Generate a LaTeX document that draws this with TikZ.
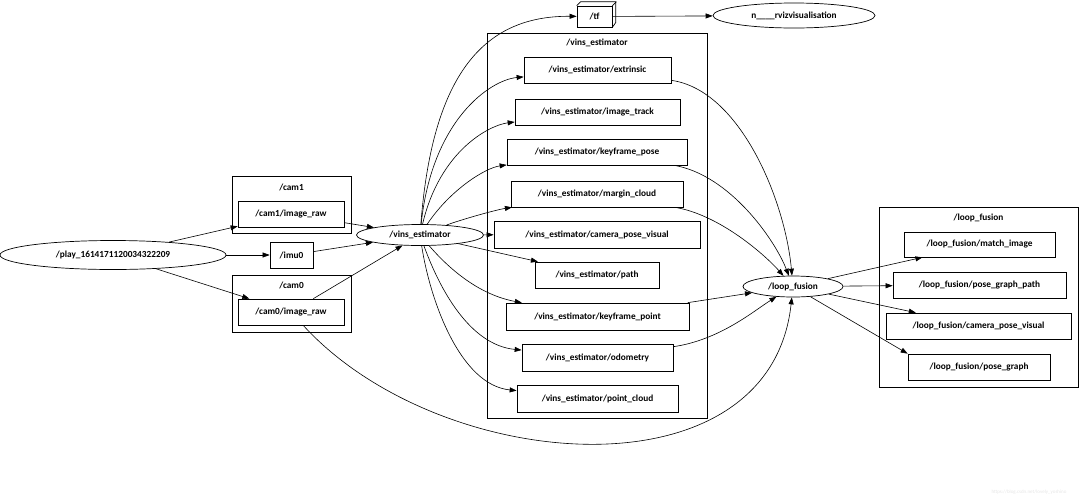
\documentclass[tikz,border=0pt]{standalone}
\usepackage{fontspec}
\setmainfont{Carlito}
\usetikzlibrary{shapes.geometric,arrows.meta}
\tikzset{
  every node/.style={font=\fontsize{9.3}{11}\selectfont\bfseries},
  tbox/.style={draw, rectangle, line width=0.7pt, inner sep=0pt},
  nell/.style={draw, ellipse, line width=0.7pt, inner sep=0pt},
  clus/.style={draw, line width=0.7pt},
  edge/.style={line width=0.6pt, -{Triangle[length=7pt,width=5pt]}},
}
\begin{document}
\begin{tikzpicture}[x=1pt,y=-1pt]
\useasboundingbox (0,0) rectangle (1080,499);
% clusters
\draw[clus] (232,176) rectangle (351,233);
\node (lcam1) at (291.5,187) {/cam1};
\draw[clus] (232,275) rectangle (351,332);
\node (lcam0) at (291.5,285) {/cam0};
\draw[clus] (487,33) rectangle (707,418);
\node (lvins) at (597,43) {/vins\_estimator};
\draw[clus] (879,207) rectangle (1078,387);
\node (llf) at (978.5,218) {/loop\_fusion};
% nodes
\node[nell, minimum width=226, minimum height=29] (play) at (113,255) {/play\_1614171120034322209};
\node[tbox, minimum width=106, minimum height=26] (cam1img) at (291,214) {/cam1/image\_raw};
\node[tbox, minimum width=43, minimum height=26] (imu) at (291.5,255) {/imu0};
\node[tbox, minimum width=106, minimum height=26] (cam0img) at (291,312) {/cam0/image\_raw};
\node[nell, minimum width=127, minimum height=21] (vins) at (420,235) {/vins\_estimator};
\node[tbox, minimum width=35, minimum height=21] (tf) at (594.5,16.5) {/tf};
\draw[line width=0.7pt] (tf.north west) -- ++(4,-4) -- ++(35,0) -- ++(0,21) -- (tf.south east);
\draw[line width=0.7pt] (tf.north east) -- ++(4,-4);
\node[nell, minimum width=162, minimum height=25] (rviz) at (794,15.5) {n\_\_\_\_rvizvisualisation};
\node[tbox, minimum width=147, minimum height=26] (ext) at (597.5,70) {/vins\_estimator/extrinsic};
\node[tbox, minimum width=165, minimum height=26] (itrack) at (597.5,112) {/vins\_estimator/image\_track};
\node[tbox, minimum width=180, minimum height=26] (kfpose) at (597,152) {/vins\_estimator/keyframe\_pose};
\node[tbox, minimum width=172, minimum height=26] (margin) at (597,194) {/vins\_estimator/margin\_cloud};
\node[tbox, minimum width=206, minimum height=27] (cpv) at (597,234.5) {/vins\_estimator/camera\_pose\_visual};
\node[tbox, minimum width=124, minimum height=26] (path) at (597,275) {/vins\_estimator/path};
\node[tbox, minimum width=183, minimum height=27] (kfpoint) at (597.5,316.5) {/vins\_estimator/keyframe\_point};
\node[tbox, minimum width=151, minimum height=27] (odom) at (597.5,357.5) {/vins\_estimator/odometry};
\node[tbox, minimum width=161, minimum height=27] (pcloud) at (597.5,398.5) {/vins\_estimator/point\_cloud};
\node[nell, minimum width=100, minimum height=21] (lf) at (793,286.5) {/loop\_fusion};
\node[tbox, minimum width=151, minimum height=25] (match) at (979.5,244.5) {/loop\_fusion/match\_image};
\node[tbox, minimum width=173, minimum height=26] (pgpath) at (979.5,285) {/loop\_fusion/pose\_graph\_path};
\node[tbox, minimum width=185, minimum height=26] (lfcpv) at (978.5,326) {/loop\_fusion/camera\_pose\_visual};
\node[tbox, minimum width=142, minimum height=26] (pg) at (979,367) {/loop\_fusion/pose\_graph};
\node[font=\fontsize{5}{6}\selectfont, text=black!10] (wm) at (1029,492) {https://blog.csdn.net/lovely\_yoshino};
% edges
\draw[edge] (play) -- (cam1img);
\draw[edge] (play) -- (imu);
\draw[edge] (play) -- (cam0img);
\draw[edge] (cam1img) -- (vins);
\draw[edge] (imu) -- (vins);
\draw[edge] (cam0img) -- (vins);
\draw[edge] (cam0img) .. controls (440,475) and (770,500) .. (lf);
\draw[edge] (vins) .. controls (432,80) and (480,15.5) .. (tf);
\draw[edge] (tf) -- (rviz);
\draw[edge] (vins) .. controls (432,120) and (490,80) .. (ext);
\draw[edge] (vins) .. controls (440,150) and (490,125) .. (itrack);
\draw[edge] (vins) .. controls (450,190) and (485,168) .. (kfpose);
\draw[edge] (vins) .. controls (460,220) and (495,210) .. (margin);
\draw[edge] (vins) -- (cpv);
\draw[edge] (vins) -- (path);
\draw[edge] (vins) .. controls (450,270) and (480,295) .. (kfpoint);
\draw[edge] (vins) .. controls (440,290) and (470,345) .. (odom);
\draw[edge] (vins) .. controls (430,300) and (460,385) .. (pcloud);
\draw[edge] (ext) .. controls (740,90) and (785,200) .. (lf);
\draw[edge] (kfpose) .. controls (730,175) and (775,240) .. (lf);
\draw[edge] (margin) .. controls (720,215) and (765,255) .. (lf);
\draw[edge] (kfpoint) -- (lf);
\draw[edge] (odom) .. controls (720,340) and (755,310) .. (lf);
\draw[edge] (lf) -- (match);
\draw[edge] (lf) -- (pgpath);
\draw[edge] (lf) -- (lfcpv);
\draw[edge] (lf) -- (pg.north west);
\end{tikzpicture}
\end{document}
